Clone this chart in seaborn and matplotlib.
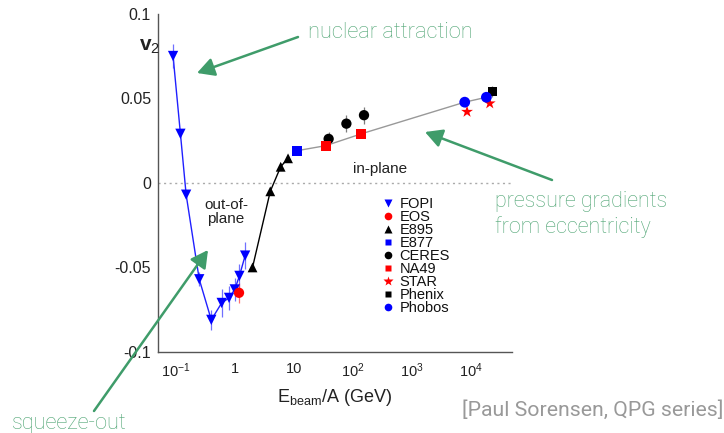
import numpy as np
import pandas as pd
import matplotlib
matplotlib.use("Agg")
import matplotlib.pyplot as plt
from matplotlib.lines import Line2D
from matplotlib.patches import FancyArrowPatch
from matplotlib.ticker import FixedLocator, FixedFormatter, NullFormatter
import seaborn as sns

# ---- elliptic flow v2 versus beam energy per nucleon ----
fopi_e = [0.09, 0.12, 0.15, 0.25, 0.40, 0.60, 0.80, 1.0, 1.2, 1.5]
fopi_v2 = [0.075, 0.029, -0.007, -0.057, -0.081, -0.071, -0.068, -0.063, -0.055, -0.043]
fopi_err = [0.007, 0.002, 0.002, 0.004, 0.006, 0.0085, 0.007, 0.0066, 0.007, 0.008]

eos_e = [1.18]
eos_v2 = [-0.065]
eos_err = [0.006]

e895_e = [2.0, 4.0, 6.0, 8.0]
e895_v2 = [-0.050, -0.005, 0.0095, 0.0145]
e895_err = [0.002, 0.002, 0.002, 0.002]

e877_e = [11.3]
e877_v2 = [0.019]

ceres_e = [39.0, 78.0, 155.0]
ceres_v2 = [0.026, 0.035, 0.040]
ceres_err = [0.004, 0.005, 0.005]

na49_e = [35.0, 140.0]
na49_v2 = [0.022, 0.029]

star_e = [8650.0, 21000.0]
star_v2 = [0.042, 0.047]

phenix_e = [23300.0]
phenix_v2 = [0.054]
phenix_err = [0.003]

phobos_e = [7900.0, 18400.0]
phobos_v2 = [0.0477, 0.0506]
phobos_err = [0.003, 0.003]

# energies and v2 of the points joined by the high-energy trend line
trend_e = e877_e + na49_e + phobos_e
trend_v2 = e877_v2 + na49_v2 + phobos_v2

xtick_vals = [0.1, 1, 10, 100, 1000, 10000]
xtick_labels = [r"$10^{-1}$", "1", "10", r"$10^{2}$", r"$10^{3}$", r"$10^{4}$"]
ytick_vals = [-0.1, -0.05, 0, 0.05, 0.1]
ytick_labels = ["-0.1", "-0.05", "0", "0.05", "0.1"]

W, H = 724, 433

sns.set_theme(style="white")
plt.rcParams["font.family"] = ["Liberation Sans", "DejaVu Sans"]
plt.rcParams["mathtext.fontset"] = "custom"
plt.rcParams["mathtext.rm"] = "Liberation Sans"
plt.rcParams["mathtext.it"] = "Liberation Sans:italic"
plt.rcParams["mathtext.bf"] = "Liberation Sans:bold"
plt.rcParams["mathtext.default"] = "regular"


def fx(x, y):
    """pixel position (from top-left) -> figure fraction"""
    return (x / W, 1 - y / H)


fig = plt.figure(figsize=(W / 100, H / 100), dpi=100)
ax = fig.add_axes([158 / W, (H - 352) / H, (512 - 158) / W, (352 - 13.7) / H])

# zero line
ax.axhline(0, color="#aaaaaa", lw=1, ls=(0, (1.5, 2.5)), zorder=1)

# connecting curves
sns.lineplot(x=fopi_e, y=fopi_v2, ax=ax, color="#2020ff", lw=1, sort=False, zorder=2)
sns.lineplot(x=e895_e, y=e895_v2, ax=ax, color="black", lw=1, sort=False, zorder=2)
sns.lineplot(x=trend_e, y=trend_v2, ax=ax, color="#999999", lw=1, sort=False, zorder=2)


# error bars
def bars(xs, ys, es, color):
    ax.vlines(xs, np.array(ys) - np.array(es), np.array(ys) + np.array(es),
              color=color, lw=0.9, alpha=0.7, zorder=3)


bars(fopi_e, fopi_v2, fopi_err, "#3333ff")
bars(eos_e, eos_v2, eos_err, "#ff3333")
bars(e895_e, e895_v2, e895_err, "#333333")
bars(ceres_e, ceres_v2, ceres_err, "#444444")
bars(phenix_e, phenix_v2, phenix_err, "#444444")
bars(phobos_e, phobos_v2, phobos_err, "#6666ff")


# markers
def pts(xs, ys, marker, color, size):
    df = pd.DataFrame({"e": xs, "v2": ys})
    sns.scatterplot(data=df, x="e", y="v2", ax=ax, marker=marker, color=color,
                    s=size, edgecolor="none", linewidth=0, zorder=4, legend=False)


pts(fopi_e, fopi_v2, "v", "#0000ff", 55)
pts(eos_e, eos_v2, "o", "#ff0000", 55)
pts(e895_e, e895_v2, "^", "black", 50)
pts(e877_e, e877_v2, "s", "#0000ff", 50)
pts(ceres_e, ceres_v2, "o", "black", 55)
pts(na49_e, na49_v2, "s", "#ff0000", 50)
pts(star_e, star_v2, "*", "#ff0000", 80)
pts(phenix_e, phenix_v2, "s", "black", 50)
pts(phobos_e, phobos_v2, "o", "#0000ff", 60)

# axes styling
ax.set_xscale("log")
ax.set_xlim(0.05, 5e4)
ax.set_ylim(-0.1, 0.1)
for s in ["top", "right"]:
    ax.spines[s].set_visible(False)
for s in ["left", "bottom"]:
    ax.spines[s].set_color("#555555")
    ax.spines[s].set_linewidth(1.0)

ax.xaxis.set_major_locator(FixedLocator(xtick_vals))
ax.xaxis.set_major_formatter(FixedFormatter(xtick_labels))
minor_x = [m * 10.0 ** k for k in range(-2, 5) for m in range(2, 10)]
ax.xaxis.set_minor_locator(FixedLocator(minor_x))
ax.xaxis.set_minor_formatter(NullFormatter())
ax.yaxis.set_major_locator(FixedLocator(ytick_vals))
ax.yaxis.set_major_formatter(FixedFormatter(ytick_labels))
ax.yaxis.set_minor_locator(FixedLocator([-0.075, -0.025, 0.025, 0.075]))

ax.tick_params(axis="both", which="major", direction="in", length=7, width=0.8,
               color="#555555", labelsize=11.5, labelcolor="#222222")
ax.tick_params(axis="both", which="minor", direction="in", length=3.5, width=0.8,
               color="#555555")
ax.tick_params(axis="x", which="major", pad=7, labelsize=10.5)
ax.tick_params(axis="y", which="major", pad=5)
ax.set_xlabel("")
ax.set_ylabel("")

# axis titles
fig.text(*fx(335, 397), r"E$_{\rm beam}$/A (GeV)", ha="center", va="center",
         fontsize=13, color="#222222")
fig.text(*fx(139, 47), r"$\mathbf{v}$$_{2}$", ha="left", va="center",
         fontsize=15, color="#222222")

# region labels
fig.text(*fx(226, 212), "out-of-\nplane", ha="center", va="center",
         fontsize=11, color="#222222", linespacing=1.05)
fig.text(*fx(380, 169), "in-plane", ha="center", va="center",
         fontsize=11, color="#222222")

# legend
handles = [
    Line2D([], [], ls="", marker="v", color="#0000ff", ms=5.5, mec="none"),
    Line2D([], [], ls="", marker="o", color="#ff0000", ms=5.5, mec="none"),
    Line2D([], [], ls="", marker="^", color="black", ms=5.5, mec="none"),
    Line2D([], [], ls="", marker="s", color="#0000ff", ms=5, mec="none"),
    Line2D([], [], ls="", marker="o", color="black", ms=5.5, mec="none"),
    Line2D([], [], ls="", marker="s", color="#ff0000", ms=5, mec="none"),
    Line2D([], [], ls="", marker="*", color="#ff0000", ms=7, mec="none"),
    Line2D([], [], ls="", marker="s", color="black", ms=5, mec="none"),
    Line2D([], [], ls="", marker="o", color="#0000ff", ms=5.5, mec="none"),
]
names = ["FOPI", "EOS", "E895", "E877", "CERES", "NA49", "STAR", "Phenix", "Phobos"]
ax.legend(handles, names, loc="upper left", bbox_to_anchor=fx(382, 197),
          bbox_transform=fig.transFigure, frameon=False, fontsize=10.5,
          handlelength=0.8, handletextpad=0.4, labelspacing=-0.07,
          borderpad=0, borderaxespad=0, labelcolor="#111111")

# annotations
green_txt = "#4fa574"
green_arr = "#3f9c6a"
afont = dict(family=["Roboto", "DejaVu Sans"], fontweight="light", color=green_txt)
fig.text(*fx(308, 32), "nuclear attraction", ha="left", va="center", fontsize=15.7, **afont)
fig.text(*fx(495, 214.5), "pressure gradients\nfrom eccentricity", ha="left", va="center",
         fontsize=15.5, linespacing=1.22, **afont)
fig.text(*fx(12, 424), "squeeze-out", ha="left", va="center", fontsize=15.7, **afont)

arrows = [((298, 37), (197, 73)), ((552, 180), (425, 132)), ((94, 411), (208, 250))]
for tail, tip in arrows:
    fig.add_artist(FancyArrowPatch(
        fx(*tail), fx(*tip), transform=fig.transFigure,
        arrowstyle="-|>,head_length=6.5,head_width=3.5", color=green_arr, lw=1.8,
        shrinkA=0, shrinkB=0, mutation_scale=1.6))

fig.text(*fx(462, 410), "[Paul Sorensen, QPG series]", ha="left", va="center",
         fontsize=15.3, family=["Roboto", "DejaVu Sans"], color="#999999")

fig.savefig("out.png", dpi=100)
